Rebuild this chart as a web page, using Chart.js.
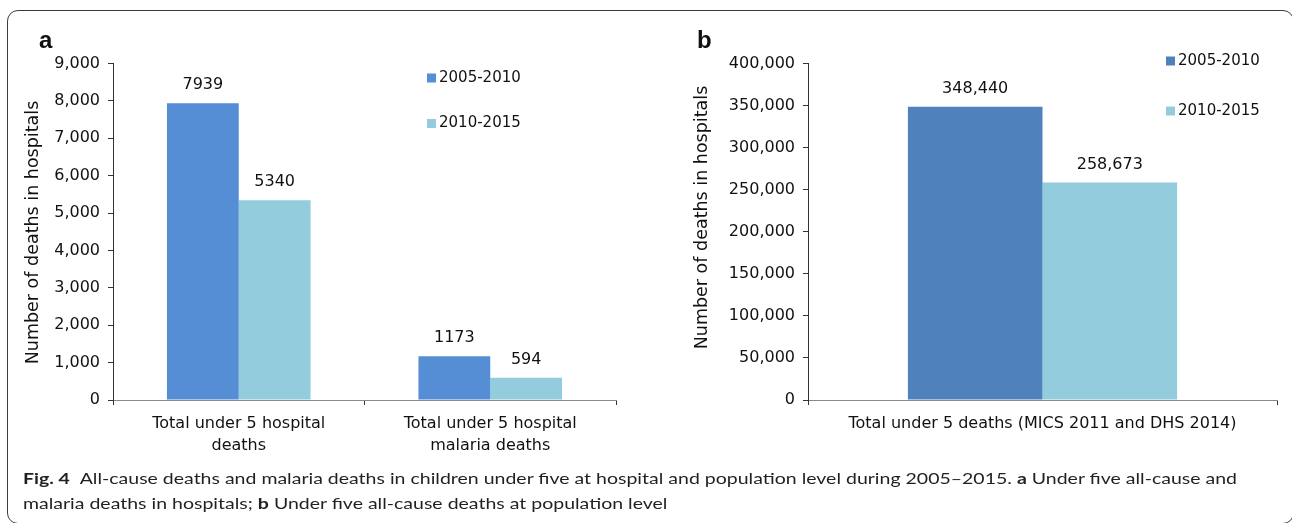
<!DOCTYPE html>
<html>
<head>
<meta charset="utf-8">
<title>Under-five deaths, 2005–2015</title>
<script src="https://cdn.jsdelivr.net/npm/chart.js@4.4.1/dist/chart.umd.min.js"></script>
<style>
  html, body { margin: 0; padding: 0; background: #fff; }
  body { width: 1292px; height: 523px; position: relative; overflow: hidden; }
  .frame {
    position: absolute; left: 7px; top: 10px; width: 1287px; height: 514px;
    border: 1px solid #3c3c3c; border-radius: 11px; box-sizing: border-box;
  }
  .panel { position: absolute; top: 0; height: 470px; }
  #panelA { left: 0; width: 650px; }
  #panelB { left: 650px; width: 642px; }
  .tag {
    position: absolute; top: 28px; font: bold 24px/24px "Liberation Sans", Arial, sans-serif; color: #111;
  }
  .caption {
    position: absolute; left: 23px; top: 465px; font-family: Lato, "Open Sans", sans-serif;
    font-size: 16px; line-height: 25px; color: #231f20; white-space: nowrap;
  }
  .caption span { display: inline-block; transform-origin: 0 50%; }
</style>
</head>
<body>
<div class="frame"></div>
<div class="panel" id="panelA"><canvas id="chartA"></canvas></div>
<div class="panel" id="panelB"><canvas id="chartB"></canvas></div>
<div class="tag" style="left:39px">a</div>
<div class="tag" style="left:697px">b</div>
<div class="caption">
  <span id="capLine1"><b>Fig. 4</b>&ensp;All-cause deaths and malaria deaths in children under five at hospital and population level during 2005–2015. <b>a</b> Under five all-cause and</span><br>
  <span id="capLine2">malaria deaths in hospitals; <b>b</b> Under five all-cause deaths at population level</span>
</div>
<script>
// ---- data -------------------------------------------------------------
const seriesLabels = ['2005-2010', '2010-2015'];

// panel a: deaths recorded in hospitals
const hospitalCategories = [
  ['Total under 5 hospital', 'deaths'],
  ['Total under 5 hospital', 'malaria deaths']
];
const hospitalDeaths0510 = [7939, 1173];
const hospitalDeaths1015 = [5340, 594];
const hospitalTicks = [0, 1000, 2000, 3000, 4000, 5000, 6000, 7000, 8000, 9000];

// panel b: population-level deaths (survey estimates)
const populationCategories = ['Total under 5 deaths (MICS 2011 and DHS 2014)'];
const populationDeaths0510 = [348440];
const populationDeaths1015 = [258673];
const populationTicks = [0, 50000, 100000, 150000, 200000, 250000, 300000, 350000, 400000];

const yTitle = 'Number of deaths in hospitals';

// ---- plugins ----------------------------------------------------------
// numbers printed above each bar
const valueLabels = {
  id: 'valueLabels',
  afterDatasetsDraw(chart, args, o) {
    const ctx = chart.ctx;
    ctx.save();
    ctx.font = o.font;
    ctx.fillStyle = o.color;
    ctx.textAlign = 'center';
    ctx.textBaseline = 'middle';
    chart.data.datasets.forEach((ds, i) => {
      chart.getDatasetMeta(i).data.forEach((bar, j) => {
        const v = ds.data[j];
        const txt = o.grouped ? v.toLocaleString('en-US') : String(v);
        ctx.fillText(txt, bar.x, bar.y - o.offset);
      });
    });
    ctx.restore();
  }
};

// legend placed inside the plot, one entry per row
const insetLegend = {
  id: 'insetLegend',
  afterDraw(chart, args, o) {
    const ctx = chart.ctx;
    ctx.save();
    ctx.font = o.font;
    ctx.textAlign = 'left';
    ctx.textBaseline = 'middle';
    chart.data.datasets.forEach((ds, i) => {
      const cy = o.top + i * o.gap;
      ctx.fillStyle = ds.backgroundColor;
      ctx.fillRect(o.x, cy - o.box / 2, o.box, o.box);
      ctx.fillStyle = o.color;
      ctx.fillText(ds.label, o.x + o.box + 3, cy);
    });
    ctx.restore();
  }
};

// rotated y-axis caption
const axisCaption = {
  id: 'axisCaption',
  afterDraw(chart, args, o) {
    const ctx = chart.ctx;
    ctx.save();
    ctx.translate(o.x, o.y);
    ctx.rotate(-Math.PI / 2);
    ctx.font = o.font;
    ctx.fillStyle = o.color;
    ctx.textAlign = 'center';
    ctx.textBaseline = 'middle';
    ctx.fillText(o.text, 0, 0);
    ctx.restore();
  }
};

Chart.register(valueLabels, insetLegend, axisCaption);
Chart.defaults.font.family = '"DejaVu Sans", sans-serif';
Chart.defaults.color = '#111';

function makeChart(canvasId, cfg) {
  return new Chart(document.getElementById(canvasId), {
    type: 'bar',
    data: {
      labels: cfg.labels,
      datasets: [
        { label: seriesLabels[0], data: cfg.first, backgroundColor: cfg.colors[0], borderWidth: 0 },
        { label: seriesLabels[1], data: cfg.second, backgroundColor: cfg.colors[1], borderWidth: 0 }
      ]
    },
    options: {
      responsive: true,
      maintainAspectRatio: false,
      animation: false,
      devicePixelRatio: 1,
      events: [],
      layout: { padding: { left: 0, top: 63.5, right: cfg.padRight, bottom: 0 } },
      datasets: { bar: { categoryPercentage: cfg.catPct, barPercentage: 1 } },
      plugins: {
        legend: { display: false },
        tooltip: { enabled: false },
        valueLabels: { font: '16px "DejaVu Sans"', color: '#111', offset: 18, grouped: cfg.grouped },
        insetLegend: { font: '15px "DejaVu Sans"', color: '#111', x: cfg.legendX, top: cfg.legendTop, gap: cfg.legendGap, box: 9 },
        axisCaption: { text: yTitle, font: '17.5px "DejaVu Sans"', color: '#111', x: cfg.titleX, y: cfg.titleY }
      },
      scales: {
        x: {
          offset: true,
          grid: { display: true, drawOnChartArea: false, drawTicks: true, tickLength: 5, color: '#333', offset: true },
          border: { display: true, color: '#8a8a8a', width: 1 },
          ticks: { font: { size: 16, lineHeight: 1.35 }, padding: 8, maxRotation: 0, autoSkip: false },
          afterFit(s) { s.height = 70; }
        },
        y: {
          min: cfg.ticks[0],
          max: cfg.ticks[cfg.ticks.length - 1],
          grid: { drawOnChartArea: false, drawTicks: true, tickLength: 5, color: '#333' },
          border: { display: true, color: '#333', width: 1 },
          ticks: { font: { size: 16 }, padding: 8 },
          afterBuildTicks(s) { s.ticks = cfg.ticks.map(v => ({ value: v })); },
          afterFit(s) { s.width = cfg.axisX; }
        }
      }
    }
  });
}

makeChart('chartA', {
  labels: hospitalCategories,
  first: hospitalDeaths0510,
  second: hospitalDeaths1015,
  colors: ['#558ED5', '#93CDDD'],
  ticks: hospitalTicks,
  grouped: false,
  axisX: 113, padRight: 34, catPct: 0.571,
  legendX: 427, legendTop: 78, legendGap: 45.5,
  titleX: 33, titleY: 232.5
});

makeChart('chartB', {
  labels: populationCategories,
  first: populationDeaths0510,
  second: populationDeaths1015,
  colors: ['#4F81BD', '#93CDDD'],
  ticks: populationTicks,
  grouped: true,
  axisX: 158, padRight: 15, catPct: 0.574,
  legendX: 516, legendTop: 61, legendGap: 50,
  titleX: 52, titleY: 217.5
});

// caption lines: condense uniformly so the first line ends at the frame's text edge
function fitCaption() {
  const l1 = document.getElementById('capLine1');
  const l2 = document.getElementById('capLine2');
  l1.style.transform = l2.style.transform = 'none';
  const k = 1214 / l1.getBoundingClientRect().width;
  l1.style.transform = l2.style.transform = 'scaleX(' + k + ')';
}
fitCaption();
if (document.fonts && document.fonts.ready) document.fonts.ready.then(fitCaption);
</script>
</body>
</html>
